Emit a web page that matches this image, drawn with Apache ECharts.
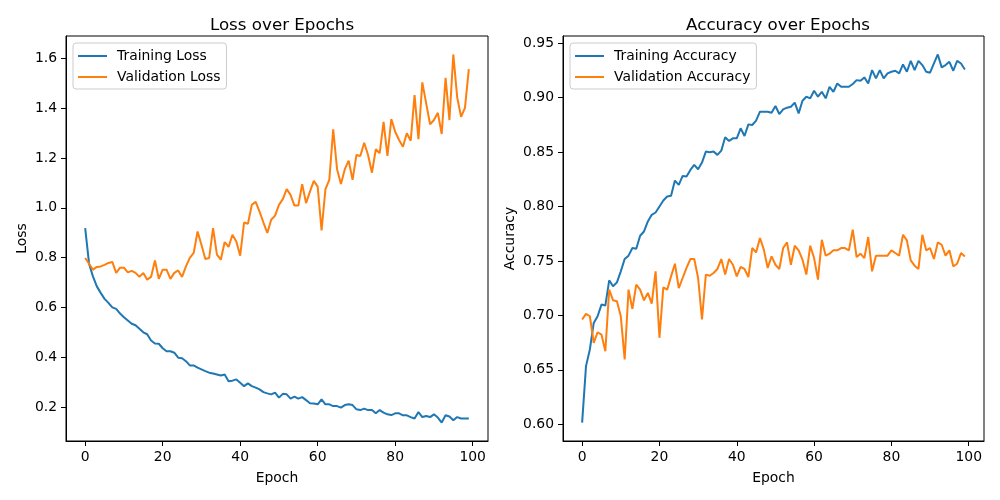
<!DOCTYPE html>
<html>
<head>
<meta charset="utf-8">
<script src="https://cdn.jsdelivr.net/npm/echarts@6/dist/echarts.min.js"></script>
<style>
html,body{margin:0;padding:0;background:#fff;}
#chart{width:1000px;height:500px;}
</style>
</head>
<body>
<div id="chart"></div>
<script>
const epochs = [0,1,2,3,4,5,6,7,8,9,10,11,12,13,14,15,16,17,18,19,20,21,22,23,24,25,26,27,28,29,30,31,32,33,34,35,36,37,38,39,40,41,42,43,44,45,46,47,48,49,50,51,52,53,54,55,56,57,58,59,60,61,62,63,64,65,66,67,68,69,70,71,72,73,74,75,76,77,78,79,80,81,82,83,84,85,86,87,88,89,90,91,92,93,94,95,96,97,98,99];

const trainLoss = [0.919,0.776,0.725,0.685,0.659,0.635,0.619,0.601,0.595,0.576,
0.561,0.548,0.535,0.529,0.515,0.501,0.493,0.468,0.456,0.455,
0.437,0.425,0.425,0.419,0.399,0.397,0.385,0.368,0.368,0.359,
0.352,0.345,0.339,0.336,0.332,0.328,0.332,0.305,0.307,0.312,
0.299,0.285,0.296,0.285,0.279,0.272,0.261,0.256,0.252,0.259,
0.239,0.254,0.252,0.235,0.243,0.235,0.241,0.229,0.216,0.215,
0.212,0.232,0.212,0.212,0.205,0.205,0.199,0.209,0.212,0.209,
0.192,0.189,0.195,0.189,0.189,0.176,0.189,0.179,0.172,0.169,
0.176,0.176,0.168,0.168,0.161,0.155,0.181,0.161,0.165,0.161,
0.172,0.159,0.139,0.168,0.163,0.148,0.161,0.155,0.155,0.155];

const valLoss = [0.799,0.776,0.752,0.763,0.765,0.771,0.779,0.783,0.739,0.760,
0.760,0.741,0.747,0.739,0.723,0.739,0.712,0.723,0.789,0.715,
0.752,0.752,0.715,0.739,0.749,0.723,0.765,0.799,0.819,0.905,
0.852,0.795,0.799,0.919,0.812,0.792,0.863,0.843,0.892,0.865,
0.808,0.941,0.936,1.012,1.024,0.985,0.941,0.899,0.952,0.969,
1.012,1.035,1.075,1.052,1.009,1.009,1.095,1.019,1.065,1.108,
1.085,0.909,1.075,1.112,1.315,1.155,1.096,1.155,1.189,1.112,
1.212,1.208,1.261,1.212,1.141,1.235,1.219,1.345,1.208,1.356,
1.305,1.272,1.245,1.299,1.269,1.452,1.275,1.503,1.419,1.335,
1.352,1.381,1.296,1.521,1.352,1.615,1.443,1.365,1.401,1.556];

const trainAcc = [0.6016,0.6534,0.6687,0.6931,0.6992,0.7099,0.7090,0.7322,0.7267,0.7303,
0.7404,0.7517,0.7548,0.7618,0.7612,0.7731,0.7770,0.7862,0.7923,0.7944,
0.7999,0.8054,0.8091,0.8097,0.8237,0.8198,0.8280,0.8274,0.8335,0.8381,
0.8341,0.8402,0.8503,0.8497,0.8503,0.8473,0.8512,0.8634,0.8601,0.8625,
0.8625,0.8717,0.8646,0.8753,0.8747,0.8787,0.8869,0.8869,0.8869,0.8860,
0.8921,0.8848,0.8891,0.8906,0.8915,0.8952,0.8854,0.8970,0.9007,0.8992,
0.9062,0.9007,0.9052,0.8992,0.9098,0.9052,0.9128,0.9098,0.9098,0.9098,
0.9123,0.9159,0.9153,0.9184,0.9128,0.9251,0.9175,0.9251,0.9175,0.9221,
0.9236,0.9245,0.9221,0.9303,0.9236,0.9336,0.9251,0.9336,0.9297,0.9236,
0.9227,0.9312,0.9395,0.9276,0.9297,0.9327,0.9245,0.9336,0.9312,0.9257];

const valAcc = [0.6962,0.7014,0.6992,0.6748,0.6845,0.6824,0.6671,0.7236,0.7138,0.7129,
0.6992,0.6595,0.7236,0.7059,0.7282,0.7236,0.7138,0.7206,0.7108,0.7404,
0.6794,0.7257,0.7236,0.7358,0.7474,0.7251,0.7343,0.7435,0.7517,0.7517,
0.7343,0.6962,0.7374,0.7364,0.7389,0.7426,0.7517,0.7374,0.7517,0.7465,
0.7358,0.7444,0.7426,0.7352,0.7618,0.7578,0.7710,0.7603,0.7435,0.7541,
0.7465,0.7426,0.7618,0.7670,0.7465,0.7639,0.7597,0.7511,0.7374,0.7639,
0.7526,0.7328,0.7694,0.7548,0.7566,0.7597,0.7597,0.7618,0.7618,0.7597,
0.7786,0.7535,0.7566,0.7526,0.7719,0.7404,0.7548,0.7548,0.7548,0.7548,
0.7597,0.7572,0.7548,0.7740,0.7688,0.7505,0.7456,0.7426,0.7740,0.7597,
0.7618,0.7517,0.7670,0.7648,0.7548,0.7597,0.7450,0.7474,0.7572,0.7541];

const xTicks = [0,20,40,60,80,100];
const lossTicks = [0.2,0.4,0.6,0.8,1.0,1.2,1.4,1.6];
const accTicks = [0.60,0.65,0.70,0.75,0.80,0.85,0.90,0.95];

const FONT = 'DejaVu Sans';
const FS = 13.9;
const BLUE = '#1f77b4', ORANGE = '#ff7f0e';
const pairs = arr => epochs.map((e, i) => [e, arr[i]]);

function xAxisCfg(gridIndex) {
  return {
    type: 'value', gridIndex, min: -4.95, max: 103.95,
    name: 'Epoch', nameLocation: 'middle', nameGap: 30,
    nameTextStyle: {fontFamily: FONT, fontSize: FS, color: '#000'},
    axisLine: {show: true, onZero: false, lineStyle: {color: '#000', width: 1}},
    axisTick: {show: true, inside: false, length: 5, lineStyle: {color: '#000'}, customValues: xTicks},
    axisLabel: {fontFamily: FONT, fontSize: FS, color: '#000', margin: 9, customValues: xTicks},
    splitLine: {show: false}
  };
}
function yAxisCfg(gridIndex, name, min, max, ticks, dec, gap) {
  return {
    type: 'value', gridIndex, min, max, name, nameLocation: 'middle', nameGap: gap,
    nameTextStyle: {fontFamily: FONT, fontSize: FS, color: '#000'},
    axisLine: {show: true, onZero: false, lineStyle: {color: '#000', width: 1}},
    axisTick: {show: true, inside: false, length: 5, lineStyle: {color: '#000'}, customValues: ticks},
    axisLabel: {fontFamily: FONT, fontSize: FS, color: '#000', margin: 9, customValues: ticks,
      formatter: v => Number(v).toFixed(dec)},
    splitLine: {show: false}
  };
}
function legendCfg(left, names) {
  return {
    left, top: 43, orient: 'vertical', data: names,
    icon: 'rect', itemWidth: 29, itemHeight: 2, itemGap: 7,
    backgroundColor: '#fff', borderColor: '#cccccc', borderWidth: 1, borderRadius: 3,
    padding: [6, 6, 5, 5],
    textStyle: {fontFamily: FONT, fontSize: FS, color: '#000', padding: [0, 0, 0, 5]}
  };
}
function lineSeries(name, arr, color, xi, yi) {
  return {
    name, type: 'line', xAxisIndex: xi, yAxisIndex: yi, data: pairs(arr),
    showSymbol: false, symbol: 'none', lineStyle: {color, width: 2}, itemStyle: {color},
    animation: false
  };
}

const chart = echarts.init(document.getElementById('chart'), null, {renderer: 'canvas'});
chart.setOption({
  animation: false,
  backgroundColor: '#fff',
  title: [
    {text: 'Loss over Epochs', left: 277, top: 12, textAlign: 'center',
     textStyle: {fontFamily: FONT, fontSize: 16.7, fontWeight: 'normal', color: '#000'}},
    {text: 'Accuracy over Epochs', left: 773, top: 12, textAlign: 'center',
     textStyle: {fontFamily: FONT, fontSize: 16.7, fontWeight: 'normal', color: '#000'}}
  ],
  grid: [
    {left: 66, top: 36, width: 422, height: 405, show: true, borderColor: '#000', borderWidth: 1, backgroundColor: 'transparent'},
    {left: 563, top: 36, width: 421, height: 405, show: true, borderColor: '#000', borderWidth: 1, backgroundColor: 'transparent'}
  ],
  legend: [
    legendCfg(73, ['Training Loss', 'Validation Loss']),
    legendCfg(570, ['Training Accuracy', 'Validation Accuracy'])
  ],
  xAxis: [xAxisCfg(0), xAxisCfg(1)],
  yAxis: [
    yAxisCfg(0, 'Loss', 0.065, 1.689, lossTicks, 1, 37),
    yAxisCfg(1, 'Accuracy', 0.5847, 0.9564, accTicks, 2, 46)
  ],
  series: [
    lineSeries('Training Loss', trainLoss, BLUE, 0, 0),
    lineSeries('Validation Loss', valLoss, ORANGE, 0, 0),
    lineSeries('Training Accuracy', trainAcc, BLUE, 1, 1),
    lineSeries('Validation Accuracy', valAcc, ORANGE, 1, 1)
  ]
});
</script>
</body>
</html>
